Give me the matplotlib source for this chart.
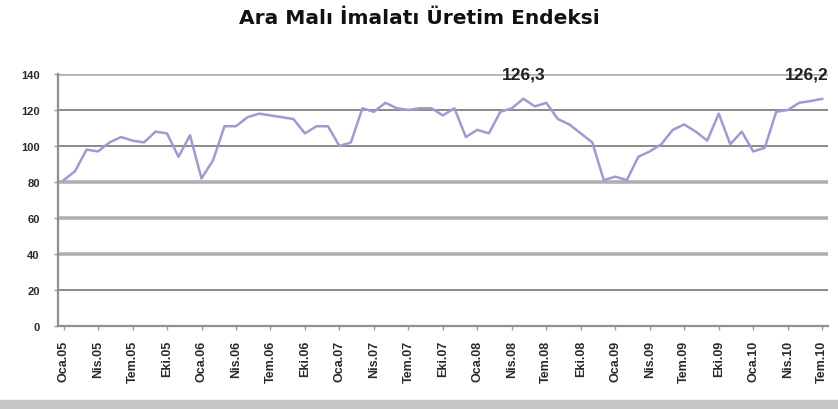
import matplotlib.pyplot as plt
from matplotlib.patches import Rectangle

plt.rcParams['font.family'] = ['Liberation Sans', 'DejaVu Sans']

# monthly index, Oca.05 .. Tem.10
values = [81, 86, 98, 97, 102, 105, 103, 102, 108, 107,
          94, 106, 82, 92, 111, 111, 116, 118, 117, 116,
          115, 107, 111, 111, 100, 102, 121, 119, 124, 121,
          120, 121, 121, 117, 121, 105, 109, 107, 119, 121,
          126.3, 122, 124, 115, 112, 107, 102, 81, 83, 81,
          94, 97, 101, 109, 112, 108, 103, 118, 101, 108,
          97, 99, 119, 120, 124, 125, 126.2]
months = ['Oca', 'Nis', 'Tem', 'Eki']
years = ['05', '06', '07', '08', '09', '10']
tick_labels = [f'{m}.{y}' for y in years for m in months][:23]
yticks = [0, 20, 40, 60, 80, 100, 120, 140]
heavy_grid = [40, 60, 80, 140]   # these look thicker/lighter in the scan

fig = plt.figure(figsize=(8.38, 4.10), dpi=100)
ax = fig.add_axes([0.069, 0.2024, 0.919, 0.6146])

x = list(range(len(values)))
for yv in yticks[1:]:
    if yv in heavy_grid:
        ax.axhline(yv, color='#b0b0b0', lw=2.6, zorder=1)
    else:
        ax.axhline(yv, color='#8a8a8a', lw=1.4, zorder=1)
ax.plot(x, values, color='#9c9cd0', lw=1.8, zorder=3)

# peak labels
ax.text(40, 140, '126,3', ha='center', va='center', fontsize=12.5,
        fontweight='bold', color='#222222', zorder=4)
ax.text(len(values) - 0.45, 140, '126,2', ha='right', va='center', fontsize=12.5,
        fontweight='bold', color='#222222', zorder=4)

ax.set_xlim(-0.5, len(values) - 0.5)
ax.set_ylim(0, 140)
ax.set_yticks(yticks)
ax.set_yticklabels([str(v) for v in yticks], fontsize=8, fontweight='bold')
ax.set_xticks(range(0, len(values), 3))
ax.set_xticklabels(tick_labels, rotation=90, fontsize=9, fontweight='bold')
ax.tick_params(axis='both', colors='#9a9a9a', labelcolor='#2a2a2a', length=3, width=1)
ax.tick_params(axis='x', pad=7)
ax.tick_params(axis='y', pad=10)

for s in ['top', 'right']:
    ax.spines[s].set_visible(False)
for s in ['left', 'bottom']:
    ax.spines[s].set_color('#8f8f8f')
    ax.spines[s].set_linewidth(1.6)

fig.text(0.5, 0.955, 'Ara Malı İmalatı Üretim Endeksi', ha='center', va='center',
         fontsize=14.5, fontweight='bold', color='#111111', family='DejaVu Sans')

# grey band along the bottom edge
fig.patches.append(Rectangle((0, 0), 1, 0.022, transform=fig.transFigure,
                             color='#c6c6c6', zorder=0))

fig.savefig('out.png', dpi=100)
